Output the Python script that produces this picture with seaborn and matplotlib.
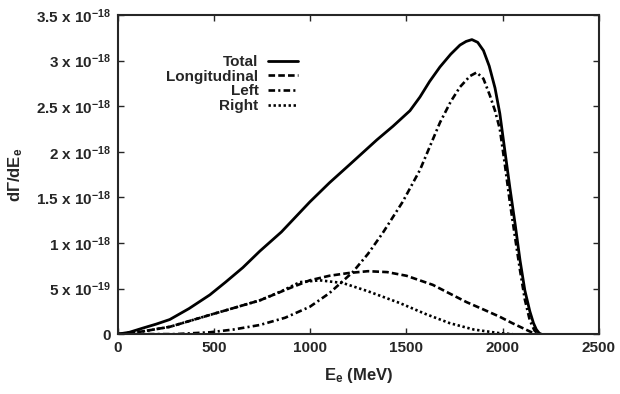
import numpy as np
import pandas as pd
import matplotlib
matplotlib.use('Agg')
import matplotlib.pyplot as plt
import seaborn as sns

# values (E in MeV, rate in units of 1e-18)
total_e = [0, 60, 130, 200, 270, 370, 478, 560, 650, 738, 850, 998, 1100, 1200, 1346, 1430,
           1518, 1570, 1620, 1674, 1730, 1778, 1810, 1840, 1870, 1900, 1930, 1960, 1985, 2010,
           2037, 2065, 2090, 2115, 2141, 2160, 2175, 2190, 2200]
total_v = [0, 0.02, 0.066, 0.11, 0.16, 0.28, 0.43, 0.57, 0.73, 0.91, 1.12, 1.45, 1.66, 1.85,
           2.13, 2.28, 2.45, 2.60, 2.77, 2.93, 3.07, 3.17, 3.21, 3.23, 3.20, 3.11, 2.94, 2.70,
           2.42, 2.03, 1.61, 1.20, 0.81, 0.48, 0.25, 0.12, 0.05, 0.01, 0]

long_e = [0, 130, 270, 478, 738, 900, 998, 1100, 1200, 1300, 1400, 1500, 1637, 1720, 1813,
          1900, 1985, 2050, 2100, 2150, 2180]
long_v = [0, 0.03, 0.08, 0.21, 0.37, 0.51, 0.59, 0.64, 0.67, 0.69, 0.68, 0.64, 0.54, 0.45,
          0.35, 0.27, 0.19, 0.12, 0.07, 0.02, 0]

left_e = [0, 300, 478, 600, 738, 870, 998, 1100, 1221, 1300, 1377, 1480, 1570, 1674, 1730,
          1778, 1830, 1865, 1900, 1933, 1960, 1985, 2010, 2037, 2065, 2090, 2115, 2141,
          2165, 2185]
left_v = [0, 0.0, 0.02, 0.05, 0.10, 0.18, 0.30, 0.45, 0.68, 0.88, 1.11, 1.45, 1.80, 2.32,
          2.55, 2.71, 2.83, 2.87, 2.80, 2.62, 2.45, 2.25, 1.88, 1.45, 1.05, 0.70, 0.38, 0.15,
          0.04, 0]

right_e = [0, 130, 270, 478, 738, 850, 946, 1050, 1170, 1300, 1466, 1600, 1725, 1850, 1985,
           2050]
right_v = [0, 0.03, 0.08, 0.21, 0.37, 0.47, 0.57, 0.59, 0.56, 0.47, 0.34, 0.22, 0.12, 0.05,
           0.01, 0]

series = [('Total', total_e, total_v, None, 2.0),
          ('Longitudinal', long_e, long_v, (2.5, 1.2), 1.9),
          ('Left', left_e, left_v, (2.5, 1.2, 0.8, 1.2), 1.9),
          ('Right', right_e, right_v, (0.9, 1.0), 1.9)]

rows = []
for name, e, v, _, _ in series:
    for ei, vi in zip(e, v):
        rows.append({'E': ei, 'rate': vi * 1e-18, 'curve': name})
df = pd.DataFrame(rows)

sns.set_style('ticks')
plt.rcParams['font.family'] = ['Liberation Sans', 'DejaVu Sans']
plt.rcParams['font.weight'] = 'bold'
plt.rcParams['mathtext.fontset'] = 'custom'
plt.rcParams['mathtext.rm'] = 'Liberation Sans:bold'
plt.rcParams['mathtext.it'] = 'Liberation Sans:bold'
plt.rcParams['mathtext.bf'] = 'Liberation Sans:bold'

fig = plt.figure(figsize=(6.2, 3.94), dpi=100)
ax = fig.add_axes([0.19, 0.152, 0.776, 0.81])

for name, e, v, dash, lw in series:
    sub = df[df['curve'] == name]
    sns.lineplot(data=sub, x='E', y='rate', ax=ax, color='black', lw=lw,
                 label=name, sort=False)
    if dash is not None:
        ax.lines[-1].set_dashes(dash)

ax.set_xlim(0, 2500)
ax.set_ylim(0, 3.5e-18)
ax.set_xticks([0, 500, 1000, 1500, 2000, 2500])
ax.set_xticklabels(['0', '500', '1000', '1500', '2000', '2500'])
yt = [0, 0.5, 1, 1.5, 2, 2.5, 3, 3.5]
ylabels = ['0', '5 x 10$^{-19}$', '1 x 10$^{-18}$', '1.5 x 10$^{-18}$', '2 x 10$^{-18}$',
           '2.5 x 10$^{-18}$', '3 x 10$^{-18}$', '3.5 x 10$^{-18}$']
ax.set_yticks([t * 1e-18 for t in yt])
ax.set_yticklabels(ylabels)
ax.tick_params(direction='in', length=4, width=1, top=True, right=True,
               labelsize=11, pad=5)
for s in ax.spines.values():
    s.set_linewidth(1.5)

ax.set_xlabel('E$_{\\mathbf{e}}$ (MeV)', fontsize=12, fontweight='bold', labelpad=8)
ax.set_ylabel('d\u0393/dE$_{\\mathbf{e}}$', fontsize=12, fontweight='bold', labelpad=8)

ax.legend(loc='upper right', bbox_to_anchor=(0.375, 0.875), frameon=False,
          markerfirst=False, borderpad=0, borderaxespad=0, handlelength=2.0,
          handletextpad=0.6, labelspacing=0.05, prop={'size': 11, 'weight': 'bold'})

fig.savefig('out.png', dpi=100)
